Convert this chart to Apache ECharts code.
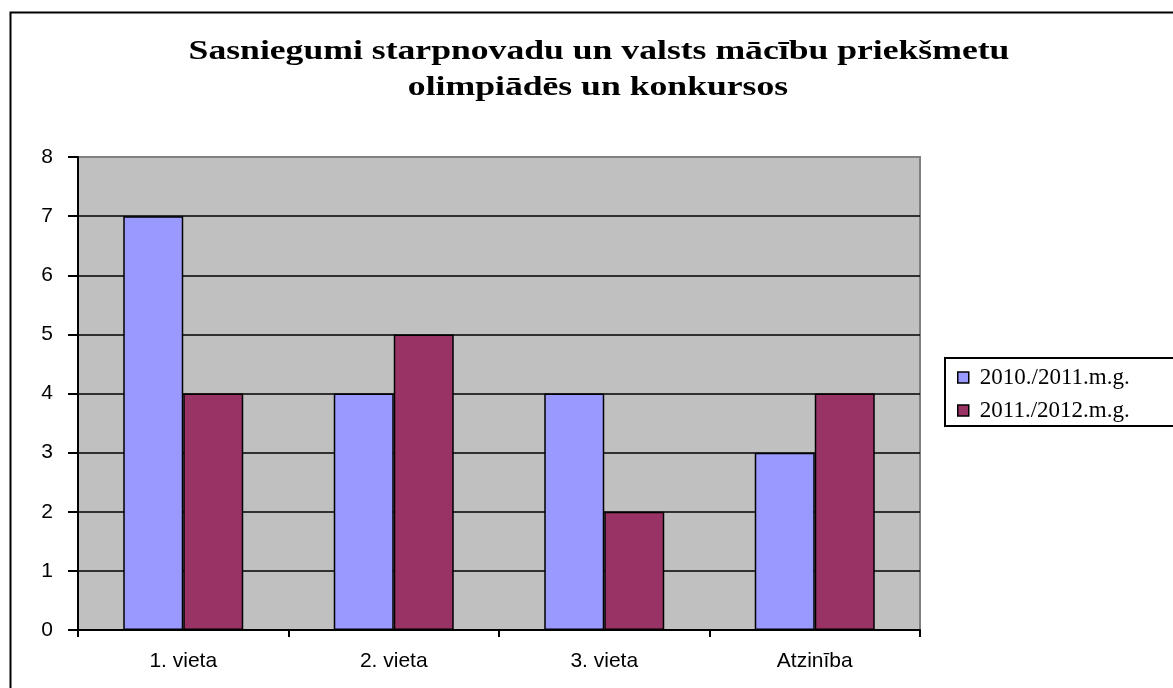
<!DOCTYPE html>
<html>
<head>
<meta charset="utf-8">
<script src="https://cdn.jsdelivr.net/npm/echarts@6/dist/echarts.min.js"></script>
<style>
html,body{margin:0;padding:0;background:#fff;}
#chart{width:1173px;height:688px;}
</style>
</head>
<body>
<div id="chart"></div>
<script>
const titleLines = ['Sasniegumi starpnovadu un valsts mācību priekšmetu', 'olimpiādēs un konkursos'];
const categories = ['1. vieta', '2. vieta', '3. vieta', 'Atzinība'];
const seriesNames = ['2010./2011.m.g.', '2011./2012.m.g.'];
const values2010 = [7, 4, 4, 3];
const values2011 = [4, 5, 2, 4];
const seriesColors = ['#9999FF', '#993366'];

const chart = echarts.init(document.getElementById('chart'), null, {renderer: 'canvas'});

const splitColors = ['#000','#000','#000','#000','#000','#000','#000','#000','#808080'];

chart.setOption({
  animation: false,
  backgroundColor: '#ffffff',
  graphic: [
    {
      type: 'rect', silent: true, z: -10,
      shape: {x: 10.5, y: 12.5, width: 1200, height: 700},
      style: {fill: 'none', stroke: '#000', lineWidth: 2}
    },
    {
      type: 'text', x: 599, y: 52, scaleX: 1.32,
      style: {text: titleLines[0], font: 'bold 27px "Liberation Serif", "Times New Roman", serif',
              fill: '#000', align: 'center', verticalAlign: 'middle'}
    },
    {
      type: 'text', x: 598, y: 88, scaleX: 1.32,
      style: {text: titleLines[1], font: 'bold 27px "Liberation Serif", "Times New Roman", serif',
              fill: '#000', align: 'center', verticalAlign: 'middle'}
    }
  ],
  legend: {
    orient: 'vertical',
    left: 945,
    top: 358,
    padding: [8, 80, 4, 12],
    itemGap: 10,
    itemWidth: 11,
    itemHeight: 11,
    icon: 'rect',
    borderColor: '#000',
    borderWidth: 2,
    itemStyle: {borderColor: '#000', borderWidth: 1.5},
    textStyle: {fontFamily: 'Liberation Serif', fontSize: 23, color: '#000', padding: [0,0,0,6]},
    data: seriesNames
  },
  grid: {
    left: 78, right: 253, top: 157, bottom: 58,
    show: true,
    backgroundColor: '#C0C0C0',
    borderColor: '#808080',
    borderWidth: 2
  },
  xAxis: {
    type: 'category',
    data: categories,
    axisLine: {lineStyle: {color: '#000', width: 2}},
    axisTick: {show: true, length: 7, alignWithLabel: false, lineStyle: {color: '#000', width: 2}},
    axisLabel: {fontFamily: 'Liberation Sans', fontSize: 21, color: '#000', margin: 21},
    splitLine: {show: false}
  },
  yAxis: {
    type: 'value',
    min: 0, max: 8, interval: 1,
    axisLine: {show: true, lineStyle: {color: '#000', width: 2}},
    axisTick: {show: true, length: 10, lineStyle: {color: '#000', width: 2}},
    axisLabel: {fontFamily: 'Liberation Sans', fontSize: 21, color: '#000', margin: 25},
    splitLine: {show: true, lineStyle: {color: splitColors, width: 1.5}}
  },
  series: [
    {
      name: seriesNames[0], type: 'bar', data: values2010,
      barGap: '0%', barCategoryGap: '43%',
      itemStyle: {color: seriesColors[0], borderColor: '#000', borderWidth: 1.5}
    },
    {
      name: seriesNames[1], type: 'bar', data: values2011,
      barGap: '0%', barCategoryGap: '43%',
      itemStyle: {color: seriesColors[1], borderColor: '#000', borderWidth: 1.5}
    }
  ]
});
</script>
</body>
</html>
